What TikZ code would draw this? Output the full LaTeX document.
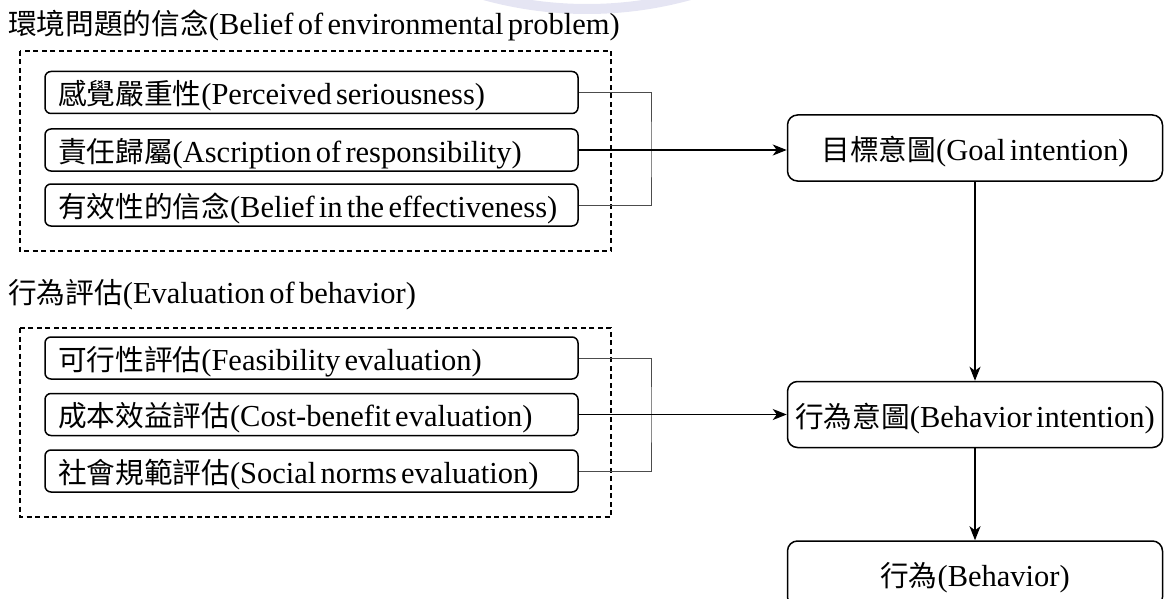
\documentclass[tikz,border=0pt]{standalone}
\usepackage{fontspec}
\setmainfont{Liberation Serif}
\newfontfamily\cjk[Scale=0.94]{Noto Sans CJK TC}
\usetikzlibrary{arrows.meta}
\definecolor{wmark}{RGB}{229,229,243}
\newcommand\tightspacing{\spaceskip=0.14em plus 0.05em\relax}

\begin{document}
\begin{tikzpicture}[x=1pt,y=-1pt,
  txt/.style={font=\fontsize{30.5}{36}\selectfont, execute at begin node=\tightspacing},
  lbox/.style={txt, draw, line width=1.5pt, rounded corners=6pt,
    text width=507pt, inner xsep=13pt, inner ysep=0pt, minimum height=42pt,
    align=left, text height=24pt, text depth=0pt},
  rbox/.style={txt, draw, line width=1.5pt, rounded corners=10pt,
    minimum width=375pt, minimum height=66pt, inner sep=0pt,
    text height=25pt, text depth=0pt},
  grp/.style={line width=1.4pt, dash pattern=on 5pt off 3.5pt},
  brk/.style={draw=black!70, line width=1pt},
  arr/.style={line width=1.5pt, -{Stealth[length=14pt,width=11pt,inset=4pt]}},
]
\useasboundingbox (0,0) rectangle (1164,599);

% faint ring at the top edge
\fill[wmark, even odd rule] (587,-376) circle[radius=390] (587,-376) circle[radius=380];

% group titles
\node[txt, anchor=base west, inner sep=0pt] (t1) at (8,35)
  {{\cjk 環境問題的信念}(Belief of environmental problem)};
\node[txt, anchor=base west, inner sep=0pt] (t2) at (8,303)
  {{\cjk 行為評估}(Evaluation of behavior)};

% dashed group frames
\draw[grp] (20,51) rectangle (611,251);
\draw[grp] (20,328) rectangle (611,517);

% belief boxes
\node[lbox] (b1) at (311.5,92.5) {{\cjk 感覺嚴重性}(Perceived seriousness)};
\node[lbox] (b2) at (311.5,150) {{\cjk 責任歸屬}(Ascription of responsibility)};
\node[lbox] (b3) at (311.5,205) {{\cjk 有效性的信念}(Belief in the effectiveness)};

% evaluation boxes
\node[lbox] (e1) at (311.5,358) {{\cjk 可行性評估}(Feasibility evaluation)};
\node[lbox] (e2) at (311.5,414.5) {{\cjk 成本效益評估}(Cost-benefit evaluation)};
\node[lbox] (e3) at (311.5,471) {{\cjk 社會規範評估}(Social norms evaluation)};

% intention and behavior boxes
\node[rbox] (goal) at (975,148) {{\cjk 目標意圖}(Goal intention)};
\node[rbox] (bint) at (975,414.5) {{\cjk 行為意圖}(Behavior intention)};
\node[rbox] (beh) at (975,574) {{\cjk 行為}(Behavior)};

% brackets joining each group
\coordinate (j1) at (651,150);
\coordinate (j2) at (651,414.5);
\draw[brk] (b1.east) -| (j1) |- (b3.east);
\draw[brk] (e1.east) -| (j2) |- (e3.east);

% arrows
\draw[arr] (b2.east) -- (b2.east -| goal.west);
\draw[arr] (e2.east) -- (e2.east -| bint.west);
\draw[arr] (goal.south) -- (bint.north);
\draw[arr] (bint.south) -- (beh.north);
\end{tikzpicture}
\end{document}
